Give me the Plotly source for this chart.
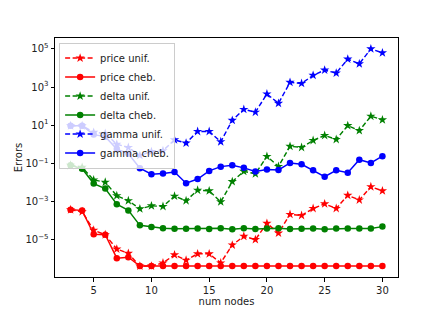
import plotly.graph_objects as go

nodes = list(range(3, 31))

price_unif = [3.7e-4, 2.9e-4, 3.1e-5, 1.8e-5, 3.2e-6, 1.9e-6, 4.1e-7, 4.1e-7, 6.0e-7, 1.6e-6,
              8.3e-7, 1.8e-6, 1.8e-6, 6.0e-7, 5.2e-6, 1.5e-5, 1.0e-5, 7.1e-5, 2.2e-5, 2.1e-4,
              1.85e-4, 4.3e-4, 7.5e-4, 4.3e-4, 2.1e-3, 1.2e-3, 5.9e-3, 3.6e-3]
price_cheb = [3.7e-4, 3.4e-4, 1.9e-5, 1.8e-5, 1.07e-6, 1.2e-6] + [4.1e-7] * 22
delta_unif = [0.079, 0.062, 0.0135, 0.0102, 0.0020, 0.0011, 4.1e-4, 5.9e-4, 5.5e-4, 1.9e-3,
              1.1e-3, 3.9e-3, 3.6e-3, 9.6e-4, 0.011, 0.038, 0.028, 0.23, 0.069, 0.78,
              0.68, 1.58, 2.9, 1.78, 9.5, 5.2, 29.5, 19.0]
delta_cheb = [0.079, 0.052, 0.0087, 0.0048, 7.2e-4, 3.4e-4, 5.6e-5, 4.6e-5, 3.9e-5, 3.7e-5,
              3.7e-5, 3.8e-5, 3.6e-5, 3.9e-5, 3.5e-5, 3.9e-5, 3.6e-5, 3.8e-5, 3.9e-5, 3.6e-5,
              3.7e-5, 3.8e-5, 3.5e-5, 3.8e-5, 3.8e-5, 3.8e-5, 3.8e-5, 4.8e-5]
gamma_unif = [9.3, 9.3, 4.2, 3.7, 1.0, 0.68, 0.26, 0.41, 0.46, 1.7,
              1.15, 4.7, 4.7, 1.35, 18, 67, 48, 430, 140, 1750,
              1550, 4100, 7700, 5400, 29000, 16500, 100000, 62000]
gamma_cheb = [9.3, 9.3, 3.2, 2.5, 0.56, 0.32, 0.055, 0.027, 0.029, 0.035,
              0.0091, 0.015, 0.040, 0.067, 0.079, 0.058, 0.037, 0.047, 0.045, 0.105,
              0.089, 0.043, 0.020, 0.043, 0.032, 0.155, 0.105, 0.235]

series = [
    ("price unif.", price_unif, "#ff0000", "dash", "star"),
    ("price cheb.", price_cheb, "#ff0000", "solid", "circle"),
    ("delta unif.", delta_unif, "#008000", "dash", "star"),
    ("delta cheb.", delta_cheb, "#008000", "solid", "circle"),
    ("gamma unif.", gamma_unif, "#0000ff", "dash", "star"),
    ("gamma cheb.", gamma_cheb, "#0000ff", "solid", "circle"),
]

ytick_vals = [1e-5, 1e-3, 1e-1, 1e1, 1e3, 1e5]
ytick_text = ["10<sup>\u22125</sup>", "10<sup>\u22123</sup>", "10<sup>\u22121</sup>",
              "10<sup>1</sup>", "10<sup>3</sup>", "10<sup>5</sup>"]
xtick_vals = [5, 10, 15, 20, 25, 30]

fig = go.Figure()
for name, vals, color, dash, sym in series:
    fig.add_trace(go.Scatter(
        x=nodes, y=vals, name=name, mode="lines+markers",
        line=dict(color=color, width=1.45, dash="5px,2.5px" if dash == "dash" else "solid"),
        marker=dict(symbol=sym, size=6.5 if sym == "circle" else 7, color=color, line=dict(width=0)),
    ))

fig.update_layout(
    width=443, height=317,
    margin=dict(l=55, r=45, t=38, b=40, autoexpand=False),
    paper_bgcolor="white", plot_bgcolor="white",
    font=dict(family="DejaVu Sans", size=10, color="#222"),
    legend=dict(x=0.012, y=0.981, xanchor="left", yanchor="top",
                bordercolor="#cccccc", borderwidth=1, bgcolor="rgba(255,255,255,0.8)",
                font=dict(size=10), tracegroupgap=0, itemwidth=30),
    xaxis=dict(range=[1.65, 31.35], tickvals=xtick_vals, showgrid=False, zeroline=False,
               showline=True, mirror=True, linecolor="black", linewidth=1,
               ticks="outside", ticklen=3.5, tickcolor="black", automargin=False,
               title=dict(text="num nodes", standoff=1, font=dict(size=10))),
    yaxis=dict(type="log", range=[-6.96, 5.57], tickvals=ytick_vals, ticktext=ytick_text,
               showgrid=False, zeroline=False,
               showline=True, mirror=True, linecolor="black", linewidth=1,
               ticks="outside", ticklen=3.5, tickcolor="black", automargin=False,
               title=dict(text="Errors", standoff=0, font=dict(size=10))),
)

fig.write_html("out.html", config={"displayModeBar": False},
               post_script="document.body.style.margin='0';")
